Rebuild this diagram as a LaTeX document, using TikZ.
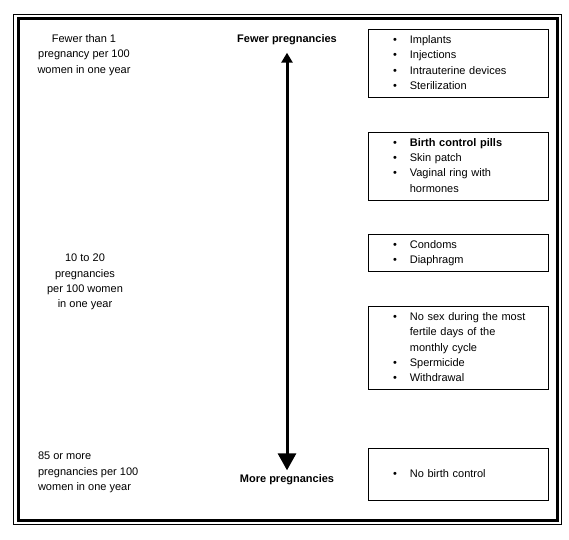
\documentclass[tikz,border=0pt]{standalone}
\usepackage{fontspec}
\setmainfont{Liberation Sans}
\usetikzlibrary{arrows.meta}

\newcommand{\methods}[1]{\begin{tabular}{@{}l@{\hspace{13pt}}l@{}}#1\end{tabular}}

\tikzset{
  method/.style={draw, line width=0.8pt, minimum width=180pt, text width=130pt, inner xsep=25pt, align=left},
  rate/.style={align=center},
}

\begin{document}
\begin{tikzpicture}[x=1pt, y=-1pt, every node/.style={font=\fontsize{11}{15.3}\selectfont}]
  \useasboundingbox (0,0) rectangle (569,539);
  % Frame
  \draw[line width=1pt] (13.5,14.5) rectangle (561,524);
  \draw[line width=3pt] (18.5,18) rectangle (557.5,520.5);

  % Rates
  \node[rate] (lowrate) at (84,55) {Fewer than 1\\pregnancy per 100\\women in one year};
  \node[rate] (midrate) at (85,282) {10 to 20\\pregnancies\\per 100 women\\in one year};
  \node[align=left, anchor=west] (highrate) at (34.5,472.5) {85 or more\\pregnancies per 100\\women in one year};

  % Scale
  \node (fewerlbl) at (287,40) {\textbf{Fewer pregnancies}};
  \node (morelbl) at (287,480) {\textbf{More pregnancies}};
  \draw[line width=3pt, shorten <=4pt, shorten >=1pt,
    {Triangle[width=11pt,length=10pt]}-{Triangle[width=18pt,length=17pt]}] (fewerlbl) -- (morelbl);

  % Methods
  \node[method, minimum height=67pt] (implants) at (458,63.5) {\methods{
    \textbullet & Implants\\
    \textbullet & Injections\\
    \textbullet & Intrauterine devices\\
    \textbullet & Sterilization}};
  \node[method, minimum height=66pt] (pills) at (458,166) {\methods{
    \textbullet & \textbf{Birth control pills}\\
    \textbullet & Skin patch\\
    \textbullet & Vaginal ring with\\
    & hormones}};
  \node[method, minimum height=36pt] (condoms) at (458,253) {\methods{
    \textbullet & Condoms\\
    \textbullet & Diaphragm}};
  \node[method, minimum height=80pt] (rhythm) at (458,348) {\methods{
    \textbullet & No sex during the most\\
    & fertile days of the\\
    & monthly cycle\\
    \textbullet & Spermicide\\
    \textbullet & Withdrawal}};
  \node[method, minimum height=52pt] (nothing) at (458,474) {\methods{
    \textbullet & No birth control}};

\end{tikzpicture}
\end{document}
